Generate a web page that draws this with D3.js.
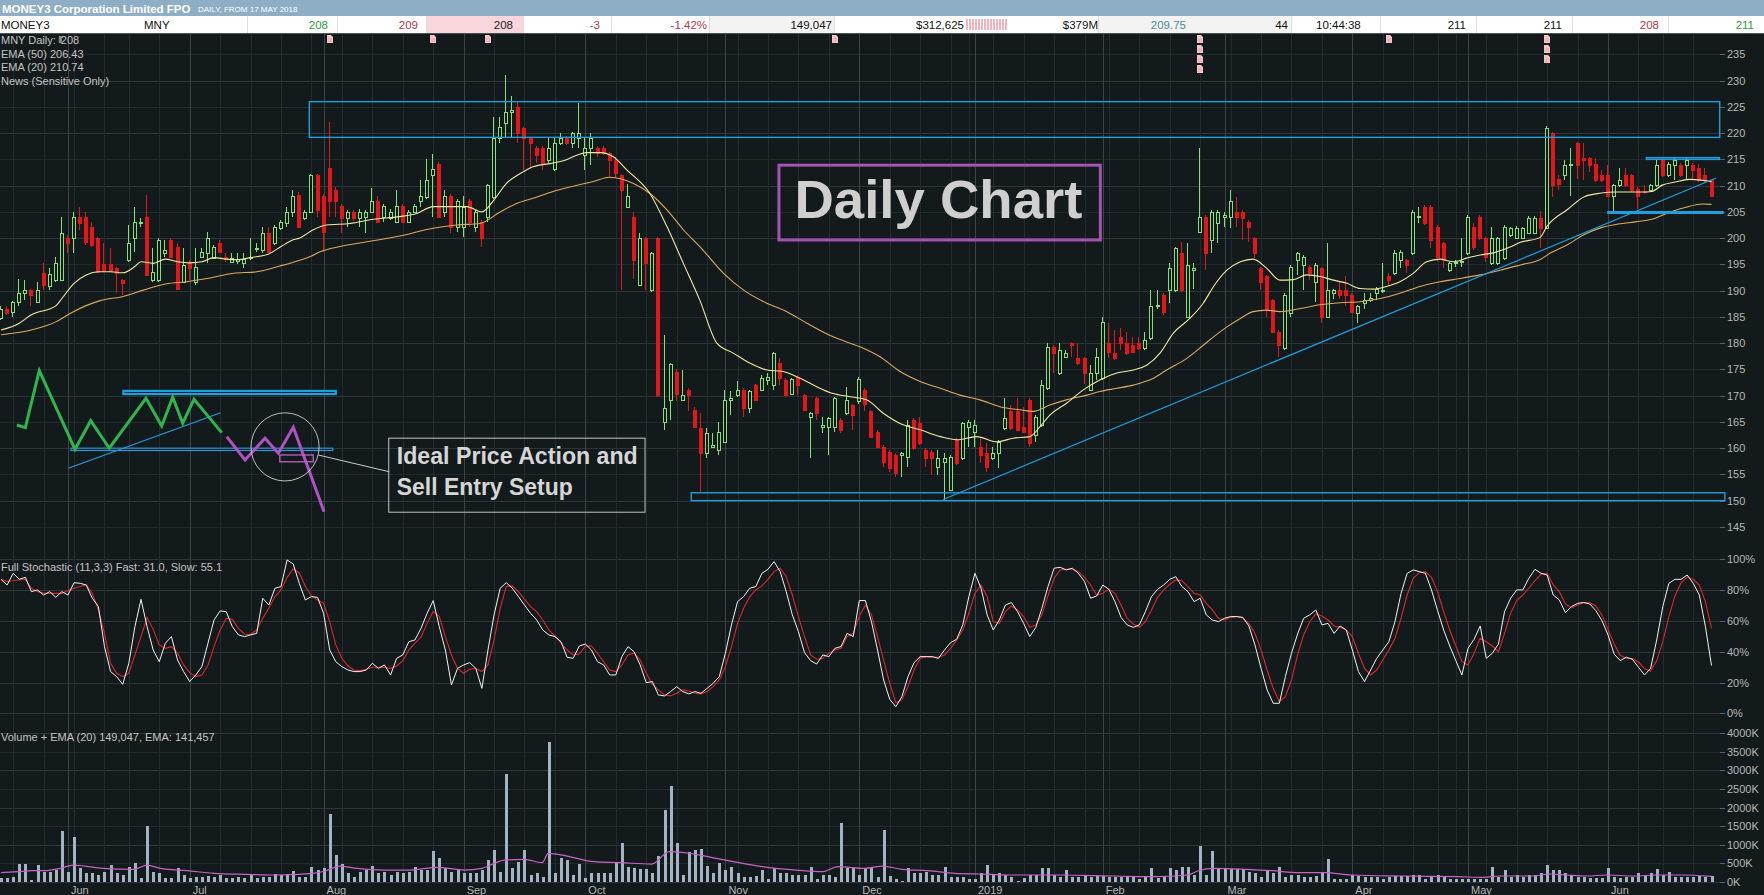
<!DOCTYPE html>
<html><head><meta charset="utf-8">
<script src="https://cdn.jsdelivr.net/npm/d3@7"></script>
<style>
html,body{margin:0;padding:0;background:#131a1c;overflow:hidden}
svg{display:block}
text{font-family:"Liberation Sans",Arial,sans-serif}
</style></head><body>
<svg id="c" width="1764" height="895"></svg>
<script>
// ================= DATA =================
const opens=[184.7,186.6,186.0,187.9,189.5,190.1,187.9,193.3,190.8,192.0,192.0,200.0,200.0,204.1,204.1,202.2,200.0,195.1,195.1,194.3,192.0,195.8,200.0,202.8,204.1,192.0,192.0,197.1,199.7,198.4,191.7,195.2,191.7,196.5,197.1,196.2,199.1,196.5,195.5,195.7,195.2,196.2,197.9,197.7,201.0,199.0,201.9,202.8,205.0,208.2,203.8,205.0,212.0,208.0,213.3,209.2,206.1,203.8,205.0,203.8,204.1,205.0,207.0,204.1,203.8,203.1,206.1,203.1,205.0,207.0,207.9,212.0,214.1,205.0,208.0,202.2,202.2,207.0,202.2,203.1,204.1,207.9,219.0,222.0,224.1,225.0,220.9,219.0,217.1,217.1,214.9,213.1,218.1,219.0,218.1,219.0,215.8,217.1,217.1,217.1,216.2,214.9,212.0,206.0,204.1,191.1,200.0,190.1,200.0,165.0,169.2,174.6,169.2,171.1,167.3,163.8,159.0,160.3,159.7,161.2,169.2,170.1,171.1,167.6,172.0,171.1,173.0,172.0,176.2,173.0,170.4,173.6,170.1,166.0,169.5,164.1,164.1,164.1,165.4,166.6,168.2,168.9,171.1,167.0,163.1,160.3,159.3,158.7,158.7,158.4,165.4,164.7,159.7,159.3,156.5,157.4,152.0,161.6,158.1,164.1,163.1,160.3,159.0,158.1,159.0,163.8,167.0,167.0,164.1,169.2,162.5,164.4,171.4,179.3,174.3,177.4,180.0,177.1,177.1,171.1,174.3,173.3,180.0,178.1,181.2,180.0,179.7,180.0,179.0,180.9,187.0,189.2,190.1,190.1,197.1,185.0,193.9,201.2,204.1,199.7,202.8,204.0,204.1,205.0,205.0,203.1,200.0,194.3,192.7,188.2,182.2,179.0,185.7,195.8,194.9,194.6,191.7,194.3,185.0,189.5,190.1,190.1,189.2,185.7,187.6,188.3,189.5,190.0,192.8,193.3,195.8,195.8,197.1,204.0,206.0,206.0,202.2,199.0,193.9,195.2,195.4,197.1,202.2,204.1,200.0,195.2,195.2,196.2,200.6,200.1,200.1,201.0,201.0,203.9,202.0,220.0,211.3,212.0,213.9,218.1,215.2,215.2,214.2,212.0,212.0,208.1,210.1,212.0,212.0,209.4,209.0,209.1,210.1,214.9,212.0,214.0,214.0,214.0,214.0,213.3,212.0,211.0];
const highs=[187.0,187.0,188.0,192.3,192.0,190.4,191.7,195.2,194.3,196.5,204.1,200.6,205.0,206.0,205.0,203.0,200.3,199.0,198.1,194.6,192.3,202.5,206.0,203.8,208.2,198.1,200.0,199.7,200.0,199.0,198.1,195.8,198.1,198.1,201.2,198.7,199.7,197.1,197.1,197.1,197.1,200.0,199.0,202.2,202.2,202.5,203.5,206.0,209.2,208.7,205.4,212.3,212.3,208.5,222.2,209.8,206.5,205.4,205.4,205.5,205.4,209.5,208.0,206.5,205.5,209.2,206.5,205.4,206.5,211.1,215.0,216.0,214.5,209.2,208.5,207.5,208.0,207.5,205.4,203.5,210.4,223.1,223.1,231.1,227.1,226.0,221.2,219.3,217.5,217.5,219.0,219.0,220.0,219.5,220.3,225.7,219.0,220.0,217.5,217.5,216.5,215.5,212.3,210.4,205.0,201.0,200.3,197.4,200.3,181.6,176.3,175.0,174.9,171.4,167.9,166.6,163.8,162.8,165.0,171.1,170.8,172.7,171.4,171.1,172.3,173.9,174.3,178.4,177.1,173.3,173.4,173.9,170.4,166.9,169.8,166.0,166.0,169.8,165.7,171.7,168.5,173.6,171.4,167.3,163.5,160.6,159.7,159.0,159.3,165.4,165.7,166.0,160.0,159.7,159.7,159.0,158.7,162.0,165.0,165.4,165.4,162.2,160.9,160.3,161.5,169.5,168.2,169.5,167.9,169.5,166.3,173.0,180.0,179.6,180.0,178.7,180.3,180.0,177.4,175.8,179.0,185.0,183.8,182.5,182.8,182.2,181.2,181.2,182.2,190.1,190.1,189.5,195.2,198.4,199.3,199.0,195.2,217.1,204.4,205.4,205.4,205.0,209.2,207.9,205.4,203.4,200.3,194.6,193.0,188.5,182.5,189.5,194.9,197.4,196.8,194.9,195.2,194.6,199.0,190.4,191.7,192.7,189.5,187.3,189.5,189.5,190.7,195.2,193.3,197.7,197.7,196.1,205.4,206.0,206.3,206.3,202.5,199.3,195.5,195.8,200.0,204.4,202.8,204.4,200.3,202.2,200.3,202.5,202.2,202.3,202.2,204.2,204.2,205.2,221.3,220.3,212.0,214.9,217.1,218.4,218.1,215.5,215.2,212.9,213.9,210.4,213.3,213.3,212.3,209.7,210.1,210.4,214.9,215.2,214.5,215.2,214.3,215.2,214.3,214.2,213.3,211.0];
const lows=[184.4,185.4,185.0,187.0,188.2,187.0,187.6,190.1,190.1,191.7,192.0,197.1,197.1,201.5,198.7,198.4,193.3,193.6,193.6,189.5,189.2,195.5,197.4,202.2,192.8,191.7,191.7,196.5,196.2,190.1,191.4,192.0,191.1,196.2,195.2,196.0,197.1,195.5,195.2,195.1,194.3,195.8,197.4,197.1,197.1,198.7,201.5,202.2,204.1,201.9,203.5,204.7,204.1,197.4,204.1,204.1,200.9,202.2,203.3,202.2,200.9,204.7,202.8,203.1,203.5,202.8,202.8,202.8,204.7,206.0,207.5,204.1,203.8,204.1,200.9,201.2,200.3,202.2,201.2,198.4,203.1,207.5,218.1,219.0,219.0,218.1,213.0,213.3,214.3,213.0,214.3,212.8,217.8,217.8,217.1,217.1,213.0,214.0,215.5,215.8,211.7,211.5,190.1,205.7,192.3,190.8,190.1,189.8,169.8,163.5,165.4,168.9,168.9,167.0,163.8,151.4,158.1,160.0,158.7,161.0,166.3,169.8,166.0,166.6,168.9,170.8,172.0,171.1,172.0,169.8,170.1,170.1,167.0,158.1,165.4,162.8,158.7,163.1,162.8,166.3,163.5,168.5,167.0,161.9,160.0,156.5,155.5,154.6,154.6,156.5,159.7,160.6,156.5,154.9,154.9,150.1,151.8,156.8,157.7,160.3,160.3,157.1,155.5,157.7,156.2,163.5,163.5,163.2,162.8,160.3,161.2,164.1,171.1,174.3,174.0,177.1,177.4,175.9,172.3,170.8,173.0,173.0,177.1,176.8,178.7,177.8,178.1,178.7,178.7,180.6,186.6,185.4,187.6,189.8,189.8,184.7,190.4,200.9,193.9,197.1,199.0,202.2,201.9,202.2,199.7,199.3,196.2,190.1,185.0,181.9,177.4,178.7,185.0,193.0,190.1,192.0,187.9,183.8,184.7,188.5,188.5,187.0,185.7,183.8,186.6,187.9,188.2,189.5,190.8,193.0,194.3,193.3,196.8,202.8,202.5,198.1,195.5,194.3,193.6,194.6,194.6,196.8,197.7,199.7,195.5,194.9,194.9,195.8,200.3,199.8,199.8,200.7,200.8,198.1,201.7,207.8,209.1,211.0,208.1,211.3,211.0,212.6,210.7,210.7,207.8,204.9,209.8,209.8,208.8,205.5,208.5,208.8,209.8,211.7,211.7,211.0,211.7,211.0,211.3,210.7,210.7,208.0];
const closes=[186.6,185.7,187.9,189.5,190.1,189.2,190.1,191.1,193.2,195.2,201.0,199.0,204.1,202.8,199.3,198.7,193.6,193.9,193.8,193.3,191.4,199.1,203.0,203.1,193.0,193.6,199.7,197.7,196.5,190.4,194.9,194.3,194.6,197.4,200.0,198.4,197.4,196.0,196.2,196.0,196.1,196.5,198.2,201.0,197.4,202.2,203.0,205.0,208.0,202.2,205.0,212.0,205.4,201.2,207.0,207.0,203.8,205.0,203.8,205.0,205.0,207.0,203.1,206.1,205.0,206.1,203.1,205.0,206.1,208.0,211.1,213.1,204.1,208.0,202.2,207.0,206.0,203.1,205.0,200.0,210.1,219.0,221.1,224.1,224.4,220.0,219.0,218.1,215.8,214.3,217.1,218.1,219.0,218.1,220.0,220.0,217.1,219.0,216.2,216.2,214.9,212.5,209.2,208.0,195.8,200.0,195.2,197.1,170.1,167.6,176.0,170.4,170.1,170.1,164.1,159.0,162.8,160.6,163.1,169.2,169.5,171.1,167.6,170.8,169.2,173.3,173.6,178.1,173.3,170.1,173.1,172.0,167.3,166.6,166.6,164.4,165.7,169.5,163.5,169.2,166.3,173.1,168.5,162.2,160.3,157.4,156.2,155.2,159.0,164.4,160.0,161.0,158.1,158.1,158.1,158.1,158.4,157.1,164.7,165.0,164.4,158.7,156.5,159.0,161.2,165.7,163.8,163.5,163.1,160.9,166.0,172.0,179.3,178.1,178.7,178.1,179.7,176.2,174.3,174.3,177.4,184.1,178.4,177.1,180.0,178.1,178.4,179.0,180.6,187.0,187.3,186.0,194.3,198.1,190.1,194.9,194.3,204.1,197.1,205.0,205.0,204.4,207.0,204.1,203.8,202.2,197.1,191.7,186.3,182.2,179.7,189.2,194.6,197.1,196.5,193.3,194.9,185.0,190.1,190.1,189.2,189.2,186.0,187.0,188.2,188.6,190.4,190.2,192.0,197.1,197.4,194.9,205.0,204.2,202.8,199.7,196.5,195.8,195.2,195.5,195.6,204.1,198.4,200.0,196.5,200.0,200.0,202.2,201.9,202.0,202.0,203.9,203.9,202.0,221.0,210.1,210.4,214.0,214.1,214.0,214.9,213.9,211.0,211.0,208.1,210.1,211.0,210.1,209.1,208.1,208.8,210.1,214.0,212.0,214.2,214.9,212.0,214.9,212.9,211.0,211.0,208.0];
// daily volume, thousands of shares
const volumes=[90,90,135,476,476,45,449,269,269,314,1365,269,1212,359,225,225,180,269,449,225,180,386,512,90,1500,269,225,90,90,359,180,90,117,135,153,117,180,90,90,117,90,180,90,117,135,207,180,207,287,117,135,386,314,359,1823,718,476,225,117,269,314,422,225,269,180,269,225,269,386,314,314,826,629,359,269,314,225,225,225,314,584,853,269,2892,359,539,853,180,225,135,3772,225,629,584,180,476,90,242,225,225,242,494,1033,404,359,332,332,225,691,1931,2577,1033,180,808,853,871,422,225,512,314,386,225,135,117,153,314,63,359,242,242,180,180,180,404,63,180,180,117,1589,359,359,180,359,359,117,1392,153,63,27,359,242,242,269,180,180,386,117,117,117,63,63,225,449,180,225,180,117,27,90,180,180,359,359,180,117,314,135,117,153,135,153,153,117,117,117,153,153,63,117,359,90,117,359,314,386,386,180,961,180,826,359,359,332,332,332,269,225,135,314,225,386,135,180,180,117,117,153,242,602,63,63,63,180,153,117,135,117,63,117,153,153,153,180,180,63,117,180,117,63,63,63,63,63,63,63,386,117,314,135,180,135,180,180,225,449,314,314,225,180,135,135,90,90,90,359,135,90,117,135,225,180,225,332,180,269,135,117,135,135,153,135,149.047];
// Full Stochastic (11,3,3): fast (white) and slow (red), percent, per day
const stochFast=[87.0,83.3,90.9,87.0,88.3,79.0,80.1,76.8,79.0,75.3,79.0,76.8,84.8,84.4,83.3,74.7,69.3,43.3,27.1,23.8,18.8,32.5,56.3,74.0,56.3,41.1,33.5,45.5,49.8,34.6,27.1,20.6,24.9,30.3,45.5,60.6,66.5,66.0,56.3,50.9,49.8,50.9,51.9,74.7,70.3,81.2,82.3,99.6,97.0,84.4,73.6,75.8,75.3,64.9,41.1,33.5,30.3,28.1,27.1,27.1,28.1,32.5,29.2,31.4,24.9,35.7,37.9,46.5,47.6,55.2,64.9,73.2,56.3,41.1,18.4,29.2,31.4,32.9,29.2,16.2,41.1,63.9,81.2,84.8,81.2,75.8,70.3,64.9,60.6,54.1,50.9,49.8,46.5,36.4,35.7,43.7,45.0,41.1,33.5,31.4,24.9,24.9,36.8,43.3,40.0,31.4,19.9,20.6,11.9,11.3,14.1,17.3,14.1,12.6,14.1,13.0,16.2,19.5,23.8,39.0,57.4,72.5,75.8,81.2,82.3,90.9,93.5,98.5,92.0,79.0,63.9,53.0,39.4,34.2,32.0,37.9,36.8,42.2,43.3,51.9,49.8,73.2,73.2,59.5,41.1,21.6,9.1,4.3,10.8,23.8,32.9,36.8,36.8,36.8,35.7,41.1,45.9,48.1,57.4,75.8,90.9,81.2,63.9,54.1,60.6,70.3,71.9,66.0,58.4,49.8,55.8,68.2,82.3,94.2,94.8,93.1,94.2,90.9,85.5,74.7,76.2,83.3,80.5,72.5,62.3,57.4,55.8,57.4,66.0,75.8,80.5,83.3,87.0,88.7,82.3,79.0,72.5,74.7,63.9,60.6,59.5,61.7,62.8,62.8,62.3,56.7,44.4,29.2,15.2,6.5,6.5,23.8,39.0,51.5,61.7,63.9,67.1,57.4,58.4,51.9,56.7,54.1,41.1,27.1,20.6,28.1,35.7,41.1,46.5,59.5,77.9,90.9,93.1,92.0,90.9,80.1,66.7,54.1,43.7,34.2,24.9,42.2,48.1,56.7,35.7,39.0,45.0,66.0,74.7,80.1,80.1,87.7,93.5,90.9,89.8,76.8,73.6,65.4,69.3,71.4,71.9,71.0,66.7,60.2,50.9,38.5,34.2,36.4,35.1,29.9,24.9,29.2,47.6,69.3,84.4,87.0,87.0,89.8,84.4,76.8,56.3,31.0];
const stochSlow=[87.0,85.7,86.1,86.6,87.0,81.2,79.0,77.9,77.9,77.9,77.9,79.7,81.2,82.3,83.5,77.9,67.1,51.9,32.5,26.0,23.8,26.0,37.9,49.8,62.3,54.5,44.4,42.2,43.3,39.0,31.4,26.4,23.8,24.9,31.4,43.3,54.1,61.7,61.0,55.2,51.5,51.3,54.1,61.7,68.2,75.8,80.1,88.3,93.7,91.3,82.3,76.2,73.6,71.4,59.5,44.4,35.7,30.7,28.1,27.7,28.6,29.9,29.9,29.7,29.2,30.7,34.2,41.1,45.5,49.4,58.4,66.0,62.8,49.8,37.9,29.2,26.0,28.6,29.2,27.1,31.4,47.6,68.2,82.3,82.7,79.0,74.0,69.3,66.0,60.6,54.1,50.2,45.5,41.1,37.9,38.5,43.7,43.7,39.0,33.5,28.1,27.1,31.4,37.9,39.0,34.6,26.0,19.0,15.2,11.9,11.3,13.0,15.2,14.5,13.0,12.6,14.1,17.3,21.6,30.3,43.3,58.4,68.2,75.8,80.1,82.7,87.0,92.0,94.2,88.7,76.8,62.8,49.8,37.9,35.1,35.7,39.0,41.1,42.2,49.8,51.9,62.8,70.3,63.9,49.8,34.6,19.5,6.9,8.7,17.3,28.1,35.7,36.8,36.4,36.4,37.9,42.2,47.6,54.1,64.9,77.9,83.3,75.8,59.5,58.4,66.0,69.7,67.1,62.8,55.8,57.4,63.9,76.2,87.7,93.1,93.5,93.5,92.0,88.3,83.3,76.8,77.9,80.5,77.9,70.3,61.7,58.0,55.8,59.5,67.1,75.3,80.1,83.8,86.6,86.1,82.3,77.9,76.8,71.4,67.1,61.7,60.6,62.3,62.8,61.7,58.4,51.9,41.1,28.1,16.2,7.6,10.8,21.6,37.9,50.9,59.5,64.5,63.2,60.6,56.7,55.8,54.1,49.8,39.0,29.2,24.9,28.1,34.6,41.1,48.7,61.7,76.8,87.7,91.3,92.0,88.3,79.0,66.0,54.1,43.7,33.5,31.4,39.0,48.7,46.5,43.7,40.0,51.9,64.9,73.2,76.8,81.2,86.1,90.3,90.9,83.5,79.0,71.0,68.4,70.3,71.9,71.9,69.7,63.9,54.5,45.0,37.7,35.7,35.5,33.3,29.0,27.5,34.2,46.5,62.8,76.2,84.8,88.3,87.0,83.3,72.5,55.1];
// moving averages: [day index, value]
const ema20=[[0,182.5],[3,183.8],[5,185.4],[9,187.1],[10,188.5],[12,191.4],[14,193.0],[16,193.6],[18,193.6],[20,193.4],[22,194.6],[23,195.5],[25,195.2],[27,196.0],[29,195.5],[31,195.3],[33,195.5],[35,196.3],[37,196.0],[39,195.9],[41,196.3],[44,197.0],[46,198.4],[48,199.7],[49,200.0],[51.3,201.6],[53.5,202.5],[57.3,202.8],[61.2,203.6],[65.5,204.1],[68.3,204.7],[71,206.0],[73.8,206.0],[76.5,206.0],[79,205.0],[81,207.3],[83,210.4],[85.3,212.3],[87.4,213.6],[90.7,214.3],[93,215.0],[94.6,215.8],[96.2,216.3],[98.4,216.3],[100.6,215.5],[102.8,213.0],[106.6,208.5],[109.4,202.2],[112.1,195.2],[114.8,188.2],[117.6,180.0],[120.3,178.1],[123,176.2],[125.8,174.9],[128.5,174.6],[131.3,173.3],[134,171.7],[136.7,170.4],[139.5,169.8],[142.2,169.2],[145,166.6],[147.7,164.7],[151,163.5],[154.3,162.2],[157,161.6],[160.3,162.2],[163.6,161.2],[166.3,161.9],[169,162.2],[170.7,164.1],[172.3,166.3],[175,168.5],[177.8,171.1],[180.5,173.0],[183.3,174.3],[186,174.9],[188.2,175.8],[190.4,178.1],[192.6,181.9],[195.3,184.7],[197.5,187.6],[199.2,190.8],[201.4,193.9],[203.6,195.5],[205.7,196.0],[207.9,194.3],[210.1,192.0],[212.3,192.1],[214.5,193.0],[216.7,192.7],[218.9,192.0],[221.1,191.4],[223.3,190.4],[225.5,190.3],[227.6,190.8],[229.8,191.7],[232,193.3],[234.2,195.5],[236.4,196.0],[238.6,195.5],[240.8,196.2],[243,196.8],[245.2,197.2],[247.9,198.3],[249.6,199.2],[252.8,200.1],[254,202.3],[257.4,205.5],[260.1,207.9],[262.9,208.6],[265.1,208.8],[267.3,208.8],[269.6,208.8],[271.2,208.9],[272.9,210.1],[275.1,210.7],[277.3,211.2],[279.6,211.0],[281,210.74]];
const ema50=[[0,181.6],[5.3,182.6],[9.1,184.1],[11.9,186.0],[16.3,188.1],[20.1,188.9],[23.4,190.1],[27.2,191.3],[30.5,191.7],[33.8,192.3],[38.2,193.3],[42,193.6],[45.8,194.7],[49.1,195.8],[50.8,196.5],[52.4,197.4],[55.7,198.4],[60.1,199.3],[65.5,200.4],[71,201.9],[74.9,202.5],[78.7,202.8],[82,205.0],[84.7,206.6],[87.4,207.6],[90.7,208.9],[94,209.9],[97.3,210.8],[100,211.6],[103.9,210.4],[106.6,208.5],[109.4,205.4],[112.1,201.6],[114.8,198.4],[118.7,193.3],[122,190.1],[125.8,187.6],[129.1,186.0],[132.4,183.8],[136.7,181.2],[141.1,179.3],[144.4,177.4],[147.7,174.6],[151,172.7],[154.3,171.4],[157.5,170.1],[160.8,169.2],[164.1,167.9],[167.4,167.3],[169.6,167.0],[172.3,168.2],[175,169.2],[178.4,170.1],[180.5,170.8],[183.3,171.4],[186,172.0],[189.3,173.3],[191.5,174.9],[194.8,177.1],[197.5,179.6],[199.2,181.2],[201.4,183.1],[203.6,184.7],[205.7,186.0],[207.9,186.3],[210.1,186.0],[213.4,186.6],[216.7,187.3],[220,187.7],[223.3,187.9],[226.6,188.5],[229.8,189.5],[233.1,190.8],[236.4,191.7],[239.7,192.3],[243,193.0],[246.3,193.9],[249.6,194.9],[252.8,195.9],[254.6,197.2],[257.4,198.8],[260.1,200.7],[262.9,202.0],[265.7,202.7],[268.5,203.1],[271.2,203.6],[274,204.9],[276.8,205.9],[279.6,206.5],[281,206.43]];
const volEma=[[0,242],[2.8,269],[5,296],[7.2,296],[9.7,359],[11.9,449],[13.8,422],[16.7,359],[21.8,332],[24,449],[26.2,359],[30.6,296],[35,225],[40.2,198],[45.3,180],[51.2,225],[53.4,296],[55.6,422],[58.5,359],[62.9,314],[67.3,314],[71.7,386],[76.1,314],[79,359],[82.7,584],[86,602],[88.9,512],[89.9,763],[93,691],[97.4,539],[101.7,512],[106.9,476],[109.8,808],[114.8,718],[117.5,629],[121.9,494],[126.2,377],[130.6,314],[134.9,269],[137.5,404],[141.9,359],[144.8,422],[148,332],[152.3,296],[156.7,225],[161,207],[165.4,180],[174.1,180],[182.8,153],[189.7,135],[194.9,180],[196.7,296],[199.3,359],[204.5,332],[208.8,296],[213.2,242],[217.5,242],[221.9,180],[230.6,153],[239.3,135],[243.6,117],[246.2,153],[251.7,153],[254.5,207],[257.2,180],[260.5,153],[263.8,180],[268.2,153],[272,180],[275.8,180],[281,141.457]];
// tick labels
const priceTicks=[145,150,155,160,165,170,175,180,185,190,195,200,205,210,215,220,225,230,235];
const stochTicks=[0,20,40,60,80,100];
const volTicks=[0,500,1000,1500,2000,2500,3000,3500,4000];
const monthLabels=["Jun","Jul","Aug","Sep","Oct","Nov","Dec","2019","Feb","Mar","Apr","May","Jun"];
const firstDay="2018-05-17";
const holidays=["2018-06-11","2018-12-25","2018-12-26","2019-01-01","2019-01-28","2019-04-19","2019-04-22","2019-04-25","2019-06-10"];
// header / legends
const titleMain="MONEY3 Corporation Limited FPO";
const titleSub="DAILY, FROM 17 MAY 2018";
const infoValues=["MONEY3","MNY","208","209","208","-3","-1.42%","149,047","$312,625","$379M","209.75","44","10:44:38","211","211","208","211"];
const legendHead="MNY Daily:", legendLast="208";
const legendLines=["EMA (50) 206.43","EMA (20) 210.74","News (Sensitive Only)"];
const stochLabel="Full Stochastic (11,3,3) Fast: 31.0, Slow: 55.1";
const volLabel="Volume + EMA (20) 149,047, EMA: 141,457";
const newsDays=[54,71,80,137,197,228,254];
const newsCounts=[1,1,1,1,4,1,3];
// hand-drawn annotations, in [day index, price] terms
const zoneUpper=[50.65,282.35,226.0,219.2];
const zoneLower=[113.4,283.2,151.5,150.0];
const zone215=[270.3,282.3,215.33,215.0];
const support205=[263.85,283.0,204.9];
const trendLine=[[154.76,150.22],[281.75,211.46]];
const sketchGreen=[[2.6,164.4],[4.0,163.9],[6.29,174.76],[12.16,159.78],[14.74,165.23],[17.79,159.98],[23.82,169.5],[26.4,164.22],[28.21,169.69],[29.85,164.74],[31.71,169.31],[36.26,162.95]];
const sketchPurple=[[37.08,162.19],[40.09,157.75],[43.37,161.88],[45.56,159.02],[48.02,163.97],[53.07,147.9]];
const sketchTopBar=[20.1,55.0,170.9,170.3];
const sketchBase=[11.5,54.5,160.0,159.55];
const sketchTrend=[[11.06,156.17],[36.09,166.75]];
const sketchCircle=[46.66,160.24,5.6];
const sketchPinkBox=[45.8,51.3,158.7,157.4];
const calloutLine=[[52.1,158.7],[63.8,155.5]];
const calloutBox=[63.7,105.8,161.9,147.8];
const calloutText=["Ideal Price Action and","Sell Entry Setup"];
const titleBox=[127.8,180.6,213.9,199.65];
const titleText="Daily Chart";

// ================= DRAWING =================
const svg=d3.select('#c');
const W=1764, plotR=1720;
const BG='#131a1c';
const n=closes.length;
const x=d3.scaleLinear().domain([0,281]).range([1,1711.5]);
const yP=d3.scaleLinear().domain([145,235]).range([526.9,54.4]);
const yS=d3.scaleLinear().domain([0,100]).range([713.3,559.3]);
const yV=d3.scaleLinear().domain([0,4000]).range([881.7,733.3]);

svg.append('rect').attr('width',W).attr('height',895).attr('fill',BG);

// trading calendar
const fmt=d3.timeFormat('%Y-%m-%d');
const days=[]; {let d=d3.timeParse('%Y-%m-%d')(firstDay);
 while(days.length<n){const w=d.getDay(); if(w!==0&&w!==6&&!holidays.includes(fmt(d))) days.push(new Date(d)); d=d3.timeDay.offset(d,1);} }
const monthStarts=[], weekStarts=[];
days.forEach((d,i)=>{ if(i===0) return;
  if(d.getMonth()!==days[i-1].getMonth()) monthStarts.push(i);
  else if(+d3.timeMonday.floor(d)!==+d3.timeMonday.floor(days[i-1])) weekStarts.push(i);
});

const grid=svg.append('g').attr('shape-rendering','crispEdges');
const px=v=>Math.round(v)+0.5;
priceTicks.forEach(t=>grid.append('line').attr('x1',0).attr('x2',plotR).attr('y1',px(yP(t))).attr('y2',px(yP(t)))
  .attr('stroke',t%10===0?'#2c3639':'#20292c'));
stochTicks.forEach(t=>grid.append('line').attr('x1',0).attr('x2',plotR).attr('y1',px(yS(t))).attr('y2',px(yS(t))).attr('stroke','#2c3639'));
volTicks.forEach(t=>grid.append('line').attr('x1',0).attr('x2',plotR).attr('y1',px(yV(t))).attr('y2',px(yV(t)))
  .attr('stroke',t%1000===0?'#2c3639':'#20292c'));
weekStarts.forEach(i=>grid.append('line').attr('x1',px(x(i))).attr('x2',px(x(i))).attr('y1',34).attr('y2',882).attr('stroke','#222b2e'));
monthStarts.forEach(i=>grid.append('line').attr('x1',px(x(i))).attr('x2',px(x(i))).attr('y1',34).attr('y2',882).attr('stroke','#3a4548'));
const axisCol='#b3b8ba';
const ax=svg.append('g').attr('font-size',11).attr('fill',axisCol);
function rightTicks(ticks,scale,fmtf){ticks.forEach(t=>{
  ax.append('line').attr('x1',plotR).attr('x2',plotR+5).attr('y1',px(scale(t))).attr('y2',px(scale(t))).attr('stroke','#5a6366');
  ax.append('text').attr('x',plotR+7).attr('y',scale(t)+4).text(fmtf(t));});}
rightTicks(priceTicks,yP,t=>t);
rightTicks(stochTicks,yS,t=>t+'%');
rightTicks(volTicks,yV,t=>t+'K');
monthStarts.forEach((i,k)=>ax.append('text').attr('x',x(i)+3).attr('y',894).text(monthLabels[k]));

// volume bars
svg.append('g').attr('shape-rendering','crispEdges').selectAll('rect').data(volumes).join('rect')
  .attr('x',(d,i)=>Math.round(x(i))-1).attr('width',3)
  .attr('y',d=>Math.round(yV(d))).attr('height',d=>Math.max(1,Math.round(yV(0))-Math.round(yV(d))))
  .attr('fill','#a3b3c3');
svg.append('path').datum(volEma).attr('fill','none').attr('stroke','#c963c9').attr('stroke-width',1.2)
  .attr('d',d3.line().x(d=>x(d[0])).y(d=>yV(d[1])).curve(d3.curveMonotoneX));

// stochastic
const sLine=d3.line().x((d,i)=>x(i)).y(d=>yS(d));
svg.append('path').datum(stochSlow).attr('fill','none').attr('stroke','#e0262a').attr('stroke-width',1.1).attr('d',sLine);
svg.append('path').datum(stochFast).attr('fill','none').attr('stroke','#f2f2f2').attr('stroke-width',1).attr('d',sLine);

// candles
const UP='#86e276', DN='#e3161b';
const cg=svg.append('g').attr('shape-rendering','crispEdges');
closes.forEach((c,i)=>{
  const o=opens[i], up=c>=o, col=up?UP:DN, cx=Math.round(x(i));
  cg.append('line').attr('x1',cx-0.5).attr('x2',cx-0.5).attr('y1',Math.round(yP(highs[i]))).attr('y2',Math.round(yP(lows[i]))).attr('stroke',col);
  const yt=Math.round(yP(Math.max(o,c))), yb=Math.round(yP(Math.min(o,c)));
  if(up) cg.append('rect').attr('x',cx-1.5).attr('y',yt+0.5).attr('width',3).attr('height',Math.max(1,yb-yt)).attr('fill',BG).attr('stroke',col);
  else cg.append('rect').attr('x',cx-2).attr('y',yt).attr('width',4).attr('height',Math.max(1,yb-yt+1)).attr('fill',col);
});
const pLine=d3.line().x(d=>x(d[0])).y(d=>yP(d[1])).curve(d3.curveMonotoneX);
svg.append('path').datum(ema50).attr('fill','none').attr('stroke','#dcaa5f').attr('stroke-width',1.1).attr('d',pLine);
svg.append('path').datum(ema20).attr('fill','none').attr('stroke','#f1eaa2').attr('stroke-width',1.1).attr('d',pLine);

// annotations
const CY='#1f9ee0';
const an=svg.append('g');
function box(b,stroke,sw){an.append('rect').attr('x',x(b[0])).attr('y',yP(b[2])).attr('width',x(b[1])-x(b[0])).attr('height',yP(b[3])-yP(b[2]))
  .attr('fill','none').attr('stroke',stroke).attr('stroke-width',sw);}
box(zoneUpper,CY,1.4); box(zoneLower,CY,1.4); box(zone215,CY,1.4);
an.append('line').attr('x1',x(support205[0])).attr('x2',x(support205[1])).attr('y1',yP(support205[2])).attr('y2',yP(support205[2])).attr('stroke',CY).attr('stroke-width',3);
const aLine=d3.line().x(d=>x(d[0])).y(d=>yP(d[1]));
an.append('path').datum(trendLine).attr('d',aLine).attr('stroke',CY).attr('stroke-width',1.2).attr('fill','none');
box(sketchTopBar,CY,2.2); box(sketchBase,CY,1.1);
an.append('path').datum(sketchTrend).attr('d',aLine).attr('stroke',CY).attr('stroke-width',1.1).attr('fill','none');
an.append('path').datum(sketchGreen).attr('d',aLine).attr('stroke','#2fb550').attr('stroke-width',3).attr('fill','none').attr('stroke-linejoin','miter');
an.append('path').datum(sketchPurple).attr('d',aLine).attr('stroke','#b052c2').attr('stroke-width',3).attr('fill','none');
an.append('circle').attr('cx',x(sketchCircle[0])).attr('cy',yP(sketchCircle[1])).attr('r',x(sketchCircle[2])-x(0)).attr('fill','none').attr('stroke','#d0d0d0').attr('stroke-width',0.9);
box(sketchPinkBox,'#c061c4',1.3);
an.append('path').datum(calloutLine).attr('d',aLine).attr('stroke','#c8c8c8').attr('stroke-width',1).attr('fill','none');
box(calloutBox,'#c4c4c4',1);
const cbx=x(calloutBox[0]), cby=yP(calloutBox[2]);
calloutText.forEach((t,k)=>{const tx=an.append('text').attr('x',cbx+8).attr('y',cby+25.5+k*31.7).attr('font-family','Lato, "Open Sans", sans-serif')
  .attr('font-weight',700).attr('font-size',23).attr('fill','#d6d6d6').text(t);
  const tw=[241,176][k]; tx.attr('textLength',tw).attr('lengthAdjust','spacingAndGlyphs');});
box(titleBox,'#a453b3',3);
an.append('text').attr('x',x(titleBox[0])+15.5).attr('y',yP(titleBox[2])+53).attr('font-family','Lato, "Open Sans", sans-serif')
  .attr('font-weight',700).attr('font-size',54).attr('fill','#cfcfcf').attr('textLength',288).attr('lengthAdjust','spacingAndGlyphs').text(titleText);

// legends
const lg=svg.append('g').attr('font-size',11).attr('fill','#c3c3c3');
const head=lg.append('text').attr('x',1).attr('y',44).text(legendHead);
const hw=head.node().getComputedTextLength();
lg.append('rect').attr('x',1+hw+3).attr('y',36).attr('width',3).attr('height',7).attr('fill','#8a8a8a');
lg.append('text').attr('x',1+hw+5).attr('y',44).text(legendLast);
legendLines.forEach((t,k)=>lg.append('text').attr('x',1).attr('y',57.5+k*13.5).text(t));
lg.append('text').attr('x',1).attr('y',571).text(stochLabel);
lg.append('text').attr('x',1).attr('y',741).text(volLabel);
const ng=svg.append('g');
newsDays.forEach((d,k)=>{for(let j=0;j<newsCounts[k];j++){const gx=Math.round(x(d))-3, gy=35+j*10;
  ng.append('path').attr('d',`M${gx},${gy}h4l2,2v6h-6z`).attr('fill','#f5c3ca');
  ng.append('path').attr('d',`M${gx+1},${gy+4}h4M${gx+1},${gy+6}h4`).attr('stroke','#e59aa6').attr('stroke-width',0.7);}});

// header
svg.append('rect').attr('width',W).attr('height',16).attr('fill','#8eaec5');
svg.append('text').attr('x',2).attr('y',12.5).attr('font-weight',700).attr('font-size',11.5).attr('fill','#ffffff').text(titleMain);
svg.append('text').attr('x',198).attr('y',12).attr('font-family','"DejaVu Sans Mono",monospace').attr('font-size',8).attr('fill','#ffffff').text(titleSub);
svg.append('rect').attr('y',16).attr('width',W).attr('height',17).attr('fill','#ffffff');
const hg=svg.append('g');
[[709,834],[1098,1291]].forEach(r=>hg.append('rect').attr('x',r[0]).attr('y',16).attr('width',r[1]-r[0]).attr('height',17).attr('fill','#f3f3f3'));
hg.append('rect').attr('x',426).attr('y',16).attr('width',97).attr('height',17).attr('fill','#f8d6db');
for(let sx=966;sx<1008;sx+=3) hg.append('rect').attr('x',sx).attr('y',19).attr('width',2).attr('height',11).attr('fill','#f1b3bd');
[247,337,426,523,611,709,834,1098,1291,1380,1476,1572,1668].forEach(sx=>hg.append('line').attr('x1',sx+0.5).attr('x2',sx+0.5).attr('y1',16).attr('y2',33).attr('stroke','#dddddd'));
hg.append('line').attr('x1',0).attr('x2',W).attr('y1',33.5).attr('y2',33.5).attr('stroke','#4b5558');
const infoLayout=[[1,'start','#111'],[144,'start','#111'],[328,'end','#2f9a3a'],[418,'end','#b0384a'],[513,'end','#222'],[600,'end','#b0384a'],
 [707,'end','#b0384a'],[832,'end','#111'],[964,'end','#111'],[1098,'end','#111'],[1186,'end','#4f8a8f'],[1288,'end','#111'],[1316,'start','#111'],
 [1466,'end','#111'],[1562,'end','#111'],[1659,'end','#b0384a'],[1754,'end','#2f9a3a']];
infoValues.forEach((v,k)=>hg.append('text').attr('x',infoLayout[k][0]).attr('y',29).attr('text-anchor',infoLayout[k][1])
  .attr('font-size',11.5).attr('fill',infoLayout[k][2]).text(v));
</script></body></html>
